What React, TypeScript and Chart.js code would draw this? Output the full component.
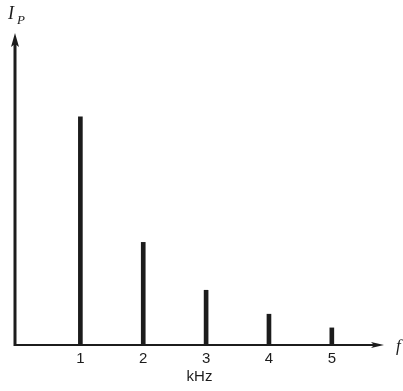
import React, { useEffect, useRef } from 'react';
import { Chart, registerables } from 'chart.js';

Chart.register(...registerables);

// Data
const frequenciesKHz = [1, 2, 3, 4, 5];
const amplitudes = [1.0, 0.45, 0.24, 0.135, 0.075];
const xTickValues = [1, 2, 3, 4, 5];
const xAxisUnit = 'kHz';
const xAxisSymbol = 'f';
const yAxisSymbol = 'I';
const yAxisSubscript = 'P';

const INK = '#1c1c1c';

const axesPlugin = {
  id: 'arrowAxes',
  afterDraw(chart: any) {
    const { ctx, chartArea } = chart;
    const { left, right, top, bottom } = chartArea;
    ctx.save();
    ctx.strokeStyle = INK;
    ctx.fillStyle = INK;
    // y axis
    ctx.lineWidth = 3;
    ctx.beginPath();
    ctx.moveTo(left, bottom + 1);
    ctx.lineTo(left, top + 8);
    ctx.stroke();
    ctx.beginPath();
    ctx.moveTo(left, top);
    ctx.lineTo(left - 4, top + 14);
    ctx.lineTo(left, top + 11);
    ctx.lineTo(left + 4, top + 14);
    ctx.closePath();
    ctx.fill();
    // x axis
    ctx.lineWidth = 2;
    ctx.beginPath();
    ctx.moveTo(left - 1, bottom);
    ctx.lineTo(right - 6, bottom);
    ctx.stroke();
    ctx.beginPath();
    ctx.moveTo(right, bottom);
    ctx.lineTo(right - 13, bottom - 3);
    ctx.lineTo(right - 10, bottom);
    ctx.lineTo(right - 13, bottom + 3);
    ctx.closePath();
    ctx.fill();
    // symbols
    ctx.font = 'italic 18px "Liberation Serif"';
    ctx.textBaseline = 'alphabetic';
    ctx.textAlign = 'left';
    ctx.fillText(yAxisSymbol, 8, 19);
    ctx.font = 'italic 13px "Liberation Serif"';
    ctx.fillText(yAxisSubscript, 17, 24);
    ctx.font = 'italic 17px "Liberation Serif"';
    ctx.fillText(xAxisSymbol, right + 12, bottom + 6);
    ctx.restore();
  },
};

export default function App() {
  const canvasRef = useRef<HTMLCanvasElement | null>(null);

  useEffect(() => {
    if (!canvasRef.current) return;
    const chart = new Chart(canvasRef.current, {
      type: 'bar',
      data: {
        datasets: [
          {
            data: frequenciesKHz.map((f, i) => ({ x: f, y: amplitudes[i] })),
            backgroundColor: INK,
            borderWidth: 0,
            barThickness: 4,
          },
        ],
      },
      options: {
        animation: false,
        responsive: false,
        events: [],
        layout: { padding: { left: 15, top: 33, right: 19, bottom: 0 } },
        plugins: {
          legend: { display: false },
          tooltip: { enabled: false },
          title: { display: false },
        },
        scales: {
          x: {
            type: 'linear',
            min: -0.04,
            max: 5.83,
            offset: false,
            grid: { display: false, drawTicks: false },
            border: { display: false },
            afterBuildTicks: (scale: any) => {
              scale.ticks = xTickValues.map((v) => ({ value: v }));
            },
            afterFit: (scale: any) => {
              scale.height = 46;
            },
            ticks: {
              padding: 5,
              color: INK,
              font: { family: '"Liberation Sans"', size: 15 },
              callback: (v: any) => String(v),
              autoSkip: false,
              maxRotation: 0,
            },
            title: {
              display: true,
              text: xAxisUnit,
              color: INK,
              font: { family: '"Liberation Sans"', size: 15 },
              padding: { top: 0, bottom: 5 },
            },
          },
          y: {
            display: false,
            min: 0,
            max: 1.368,
          },
        },
      },
      plugins: [axesPlugin],
    });
    return () => chart.destroy();
  }, []);

  return (
    <div style={{ position: 'fixed', left: 0, top: 0, width: 403, height: 391, background: '#fff' }}>
      <canvas ref={canvasRef} width={403} height={391} style={{ display: 'block' }} />
    </div>
  );
}
